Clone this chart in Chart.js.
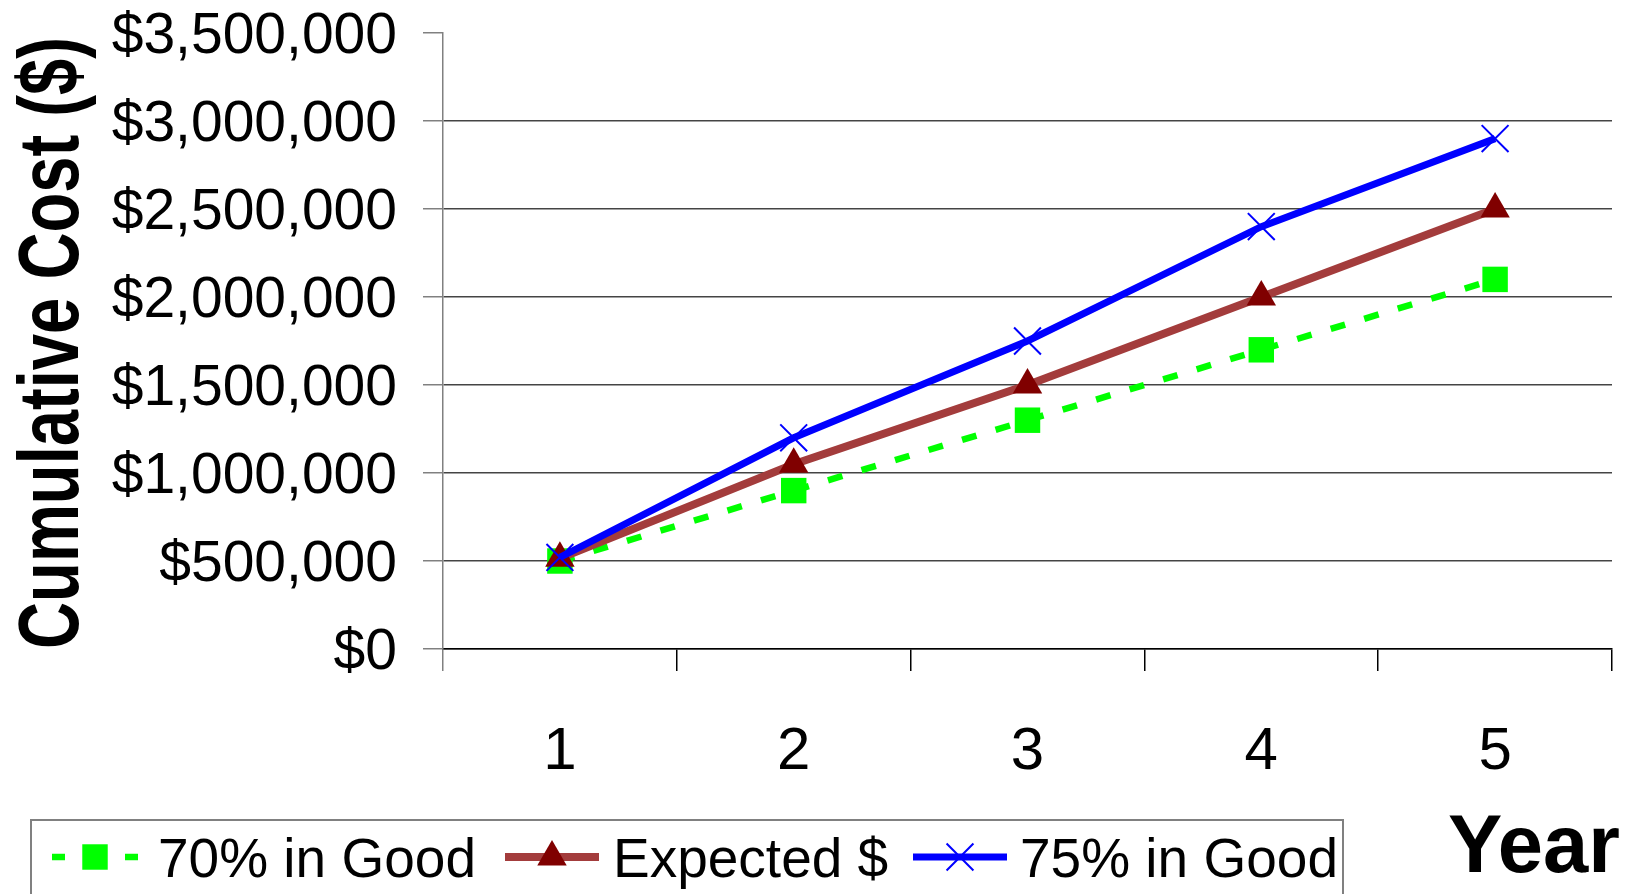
<!DOCTYPE html>
<html lang="en">
  <head>
    <meta charset="UTF-8" />
    <title>Cumulative Cost</title>
    <script src="https://cdn.jsdelivr.net/npm/chart.js"></script>
    <style>
      body {
        margin: 0;
        background: #ffffff;
      }
      .wrap {
        width: 1635px;
        height: 894px;
        position: relative;
      }
    </style>
  </head>
  <body>
    <div class="wrap"><canvas id="costChart"></canvas></div>

    <script>
      // data
      const years = ["1", "2", "3", "4", "5"];
      const good70 = [500000, 900000, 1300000, 1700000, 2100000];
      const expected = [515000, 1050000, 1500000, 2000000, 2500000];
      const good75 = [520000, 1200000, 1750000, 2400000, 2900000];
      const seriesNames = ["70% in Good", "Expected $", "75% in Good"];

      const FONT = "'Liberation Sans', Arial, sans-serif";

      // legend box, y title and "Year" label
      const extras = {
        id: "extras",
        afterDraw(chart) {
          const ctx = chart.ctx;
          ctx.save();

          // y axis title, condensed like the original
          ctx.font = "bold 86px " + FONT;
          ctx.fillStyle = "#000";
          ctx.textAlign = "center";
          ctx.textBaseline = "alphabetic";
          const yTitle = "Cumulative Cost ($)";
          const sx = 612 / ctx.measureText(yTitle).width;
          ctx.save();
          ctx.translate(78, 343);
          ctx.rotate(-Math.PI / 2);
          ctx.scale(sx, 1);
          ctx.fillText(yTitle, 0, 0);
          ctx.restore();

          // "Year"
          ctx.font = "bold 82px " + FONT;
          ctx.textAlign = "left";
          const yw = ctx.measureText("Year").width;
          ctx.save();
          ctx.translate(1448, 872);
          ctx.scale(172 / yw, 1);
          ctx.fillText("Year", 0, 0);
          ctx.restore();

          // legend box
          ctx.strokeStyle = "#808080";
          ctx.lineWidth = 2;
          ctx.strokeRect(31, 820, 1312, 90);

          const items = [
            { x0: 52, x1: 138, tx: 158 },
            { x0: 505, x1: 599, tx: 613 },
            { x0: 913, x1: 1007, tx: 1020 },
          ];
          const ly = 857;
          chart.data.datasets.forEach((ds, i) => {
            const it = items[i];
            ctx.save();
            ctx.strokeStyle = ds.borderColor;
            ctx.lineWidth = ds.borderWidth;
            ctx.beginPath();
            if (ds.borderDash) {
              ctx.moveTo(it.x0, ly);
              ctx.lineTo(it.x0 + 13, ly);
              ctx.moveTo(it.x1 - 13, ly);
              ctx.lineTo(it.x1, ly);
            } else {
              ctx.moveTo(it.x0, ly);
              ctx.lineTo(it.x1, ly);
            }
            ctx.stroke();
            ctx.restore();

            ctx.save();
            ctx.fillStyle = ds.pointBackgroundColor;
            ctx.strokeStyle = ds.pointBorderColor;
            ctx.lineWidth = ds.pointBorderWidth;
            Chart.helpers.drawPoint(
              ctx,
              {
                pointStyle: ds.pointStyle,
                radius: ds.pointRadius,
                rotation: 0,
                borderWidth: ds.pointBorderWidth,
              },
              (it.x0 + it.x1) / 2,
              ly
            );
            ctx.restore();

            ctx.font = "55px " + FONT;
            ctx.fillStyle = "#000";
            ctx.textAlign = "left";
            ctx.fillText(ds.label, it.tx, 877);
          });

          ctx.restore();
        },
      };

      new Chart(document.getElementById("costChart"), {
        type: "line",
        data: {
          labels: years,
          datasets: [
            {
              label: seriesNames[0],
              data: good70,
              order: 2,
              borderColor: "#00ff00",
              borderWidth: 6.5,
              borderDash: [15, 20],
              pointStyle: "rect",
              pointRadius: 18,
              pointBackgroundColor: "#00ff00",
              pointBorderColor: "#00ff00",
              pointBorderWidth: 0,
            },
            {
              label: seriesNames[1],
              data: expected,
              order: 1,
              borderColor: "#a33c3c",
              borderWidth: 8,
              pointStyle: "triangle",
              pointRadius: 17,
              pointBackgroundColor: "#800000",
              pointBorderColor: "#800000",
              pointBorderWidth: 0,
            },
            {
              label: seriesNames[2],
              data: good75,
              order: 0,
              borderColor: "#0000ff",
              borderWidth: 7,
              pointStyle: "crossRot",
              pointRadius: 19,
              pointBackgroundColor: "#0000ff",
              pointBorderColor: "#0000ff",
              pointBorderWidth: 2,
            },
          ],
        },
        options: {
          responsive: true,
          maintainAspectRatio: false,
          animation: false,
          layout: { padding: { top: 33, right: 23, bottom: 0, left: 0 } },
          plugins: {
            legend: { display: false },
            tooltip: { enabled: false },
          },
          elements: { line: { tension: 0 } },
          scales: {
            x: {
              offset: true,
              afterFit: (s) => {
                s.height = 245;
              },
              grid: {
                offset: true,
                drawOnChartArea: false,
                tickLength: 22,
                tickColor: (c) => (c.index === 0 ? "#808080" : "#000000"),
                lineWidth: 1.5,
              },
              border: { color: "#000000", width: 1.5 },
              ticks: {
                color: "#000",
                padding: 45,
                font: { family: FONT, size: 60, lineHeight: 1.2 },
              },
            },
            y: {
              min: 0,
              max: 3500000,
              afterFit: (s) => {
                s.width = 443;
                s.paddingTop = 0;
                s.paddingBottom = 0;
              },
              grid: {
                tickLength: 20,
                lineWidth: 1.5,
                color: (c) =>
                  c.tick && c.tick.value === 3500000 ? "rgba(0,0,0,0)" : "#444444",
                tickColor: "#808080",
              },
              border: { color: "#808080", width: 1.5 },
              ticks: {
                stepSize: 500000,
                color: "#000",
                padding: 26,
                labelOffset: 4,
                font: { family: FONT, size: 57, lineHeight: 1.1 },
                callback: (v) => "$" + v.toLocaleString("en-US"),
              },
            },
          },
        },
        plugins: [extras],
      });
    </script>
  </body>
</html>
